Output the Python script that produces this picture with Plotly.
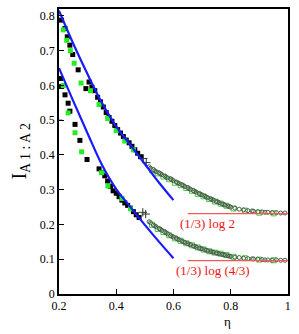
import plotly.graph_objects as go

# blue fit curves
blue_up_x = [0.2, 0.25, 0.3, 0.35, 0.4, 0.45, 0.5, 0.55, 0.6]
blue_up_y = [0.815, 0.72, 0.632, 0.55, 0.482, 0.428, 0.374, 0.32, 0.27]
blue_lo_x = [0.2, 0.25, 0.3, 0.35, 0.4, 0.45, 0.5, 0.55, 0.6]
blue_lo_y = [0.65, 0.555, 0.462, 0.372, 0.302, 0.25, 0.199, 0.15, 0.103]

# filled black squares
black_x = [0.209, 0.221, 0.229, 0.238, 0.248, 0.267, 0.294, 0.305, 0.315, 0.325, 0.335, 0.345,
           0.355, 0.365, 0.375, 0.385, 0.395, 0.405, 0.415, 0.425, 0.435, 0.445, 0.455, 0.465,
           0.475, 0.485,
           0.205, 0.209, 0.221, 0.232, 0.238, 0.256, 0.273, 0.298, 0.34, 0.35, 0.36, 0.37, 0.38,
           0.389, 0.40, 0.41, 0.42, 0.43, 0.44, 0.45, 0.46, 0.47, 0.48]
black_y = [0.788, 0.764, 0.740, 0.716, 0.689, 0.645, 0.591, 0.61, 0.595, 0.585, 0.566, 0.553,
           0.538, 0.522, 0.508, 0.497, 0.485, 0.473, 0.463, 0.453, 0.443, 0.435, 0.425, 0.415,
           0.405, 0.395,
           0.62, 0.597, 0.573, 0.549, 0.526, 0.488, 0.442, 0.387, 0.36, 0.35, 0.34, 0.325, 0.31,
           0.297, 0.29, 0.28, 0.27, 0.262, 0.255, 0.247, 0.237, 0.228, 0.22]

# filled green squares
green_x = [0.215, 0.227, 0.24, 0.253, 0.277, 0.31, 0.34, 0.37, 0.40, 0.43, 0.46,
           0.215, 0.232, 0.256, 0.279, 0.349, 0.371, 0.42, 0.45]
green_y = [0.76, 0.73, 0.70, 0.664, 0.607, 0.585, 0.545, 0.505, 0.47, 0.44, 0.415,
           0.60, 0.521, 0.464, 0.409, 0.349, 0.311, 0.275, 0.245]

# crosses
cross_x = [0.495, 0.505, 0.493, 0.503]
cross_y = [0.39, 0.378, 0.235, 0.23]

# tails: open circles
circ_x = [0.52, 0.53, 0.54, 0.55, 0.56, 0.57, 0.58, 0.59, 0.60, 0.61, 0.62, 0.63, 0.64, 0.65,
          0.66, 0.67, 0.68, 0.69, 0.70, 0.71, 0.72, 0.73, 0.74, 0.75, 0.76, 0.77, 0.78, 0.79,
          0.80, 0.83, 0.86, 0.88, 0.91, 0.93, 0.96, 0.99]
circ_up_y = [0.362, 0.358, 0.352, 0.348, 0.343, 0.339, 0.334, 0.331, 0.326, 0.322, 0.318, 0.314,
             0.309, 0.306, 0.301, 0.297, 0.293, 0.289, 0.285, 0.281, 0.277, 0.273, 0.27, 0.266,
             0.263, 0.259, 0.256, 0.253, 0.25, 0.244, 0.24, 0.238, 0.236, 0.235, 0.234, 0.233]
circ_lo_y = [0.205, 0.198, 0.193, 0.188, 0.183, 0.178, 0.173, 0.168, 0.164, 0.16, 0.156, 0.152,
             0.148, 0.145, 0.142, 0.138, 0.135, 0.132, 0.13, 0.127, 0.124, 0.122, 0.12, 0.118,
             0.116, 0.114, 0.112, 0.11, 0.108, 0.105, 0.102, 0.101, 0.099, 0.098, 0.098, 0.097]

# second set of open circles (other system size)
circ2_x = [0.515, 0.535, 0.555, 0.575, 0.595, 0.615, 0.635, 0.655, 0.675, 0.695, 0.715, 0.735,
           0.755, 0.775, 0.795, 0.815, 0.845, 0.875, 0.895, 0.92, 0.945, 0.975]
circ2_up_y = [0.366, 0.354, 0.346, 0.336, 0.329, 0.320, 0.312, 0.303, 0.295, 0.287, 0.279, 0.272,
              0.265, 0.258, 0.252, 0.247, 0.242, 0.239, 0.237, 0.235, 0.234, 0.233]
circ2_lo_y = [0.208, 0.196, 0.186, 0.176, 0.166, 0.158, 0.150, 0.143, 0.137, 0.131, 0.126, 0.121,
              0.117, 0.113, 0.109, 0.106, 0.103, 0.101, 0.100, 0.098, 0.097, 0.097]

# tails: open green squares
sq_x = [0.525, 0.545, 0.565, 0.585, 0.605, 0.625, 0.645, 0.665, 0.685, 0.705, 0.725, 0.745,
        0.765, 0.785, 0.81, 0.85, 0.9, 0.95]
sq_up_y = [0.356, 0.347, 0.338, 0.33, 0.32, 0.313, 0.305, 0.297, 0.288, 0.281, 0.273, 0.266,
           0.26, 0.254, 0.246, 0.24, 0.234, 0.232]
sq_lo_y = [0.199, 0.187, 0.178, 0.169, 0.16, 0.153, 0.146, 0.14, 0.134, 0.128, 0.123, 0.119,
           0.116, 0.112, 0.107, 0.103, 0.099, 0.097]

# asymptotes
red_x = [0.65, 1.0]
red_up_y = [0.2310, 0.2310]
red_lo_y = [0.0959, 0.0959]
red_labels = ["(1/3) log 2", "(1/3) log (4/3)"]
red_label_x = [0.72, 0.74]
red_label_y = [0.202, 0.068]

x_ticks = [0.2, 0.4, 0.6, 0.8, 1.0]
x_ticktext = ["0.2", "0.4", "0.6", "0.8", "1"]
y_ticks = [0, 0.1, 0.2, 0.3, 0.4, 0.5, 0.6, 0.7, 0.8]
y_ticktext = ["0", "0.1", "0.2", "0.3", "0.4", "0.5", "0.6", "0.7", "0.8"]

FONT = "Liberation Serif"

fig = go.Figure()

circ_marker = dict(symbol="circle-open", size=4, color="#4a5f4a", line=dict(width=1))
sq_marker = dict(symbol="square-open", size=5, color="#44cc44", line=dict(width=1))
fig.add_trace(go.Scatter(x=sq_x, y=sq_up_y, mode="markers", marker=sq_marker))
fig.add_trace(go.Scatter(x=sq_x, y=sq_lo_y, mode="markers", marker=sq_marker))
fig.add_trace(go.Scatter(x=circ_x, y=circ_up_y, mode="markers", marker=circ_marker))
fig.add_trace(go.Scatter(x=circ_x, y=circ_lo_y, mode="markers", marker=circ_marker))
fig.add_trace(go.Scatter(x=circ2_x, y=circ2_up_y, mode="markers", marker=circ_marker))
fig.add_trace(go.Scatter(x=circ2_x, y=circ2_lo_y, mode="markers", marker=circ_marker))
fig.add_trace(go.Scatter(x=black_x, y=black_y, mode="markers",
                         marker=dict(symbol="square", size=5, color="black")))
fig.add_trace(go.Scatter(x=green_x, y=green_y, mode="markers",
                         marker=dict(symbol="square", size=5, color="#22ee22")))
fig.add_trace(go.Scatter(x=cross_x, y=cross_y, mode="markers",
                         marker=dict(symbol="cross-thin-open", size=6, color="#2a3a2a", line=dict(width=1))))
fig.add_trace(go.Scatter(x=blue_up_x, y=blue_up_y, mode="lines", line=dict(color="#1a1aff", width=2.2, shape="spline")))
fig.add_trace(go.Scatter(x=blue_lo_x, y=blue_lo_y, mode="lines", line=dict(color="#1a1aff", width=2.2, shape="spline")))
fig.add_trace(go.Scatter(x=[0.2], y=[0.5], mode="markers",
                         marker=dict(symbol="line-ew", size=5, color="#1a1aff", line=dict(width=1.2, color="#1a1aff"))))
fig.add_trace(go.Scatter(x=red_x, y=red_up_y, mode="lines", line=dict(color="#ff5555", width=1.3)))
fig.add_trace(go.Scatter(x=red_x, y=red_lo_y, mode="lines", line=dict(color="#ff5555", width=1.3)))

for t, lx, ly in zip(red_labels, red_label_x, red_label_y):
    fig.add_annotation(x=lx, y=ly, text=t, showarrow=False, xanchor="center", yanchor="middle",
                       font=dict(family=FONT, size=13, color="#ee1111"))

fig.add_annotation(x=0.79, y=-0.095, xref="x", yref="paper", text="η", showarrow=False,
                   xanchor="center", yanchor="middle",
                   font=dict(family=FONT, size=13, color="black"))
fig.add_annotation(x=-0.17, y=0.5, xref="paper", yref="paper", textangle=-90,
                   xanchor="center", yanchor="middle",
                   text="I<sub>A 1 : A 2</sub>", showarrow=False,
                   font=dict(family=FONT, size=20, color="black"))

axis_common = dict(showgrid=False, zeroline=False, showline=True, linecolor="black", linewidth=1.5,
                   mirror=True, ticks="inside", ticklen=5, tickcolor="black", tickwidth=1,
                   tickfont=dict(family=FONT, size=12, color="black"))
fig.update_xaxes(range=[0.2, 1.0005], tickvals=x_ticks, ticktext=x_ticktext, **axis_common)
fig.update_yaxes(range=[0, 0.82], tickvals=y_ticks, ticktext=y_ticktext, **axis_common)

fig.update_layout(width=299, height=334, margin=dict(l=59, r=11, t=7, b=40),
                  paper_bgcolor="white", plot_bgcolor="white", showlegend=False)

fig.write_html("out.html", config={"displayModeBar": False},
               post_script="document.body.style.margin='0';")
